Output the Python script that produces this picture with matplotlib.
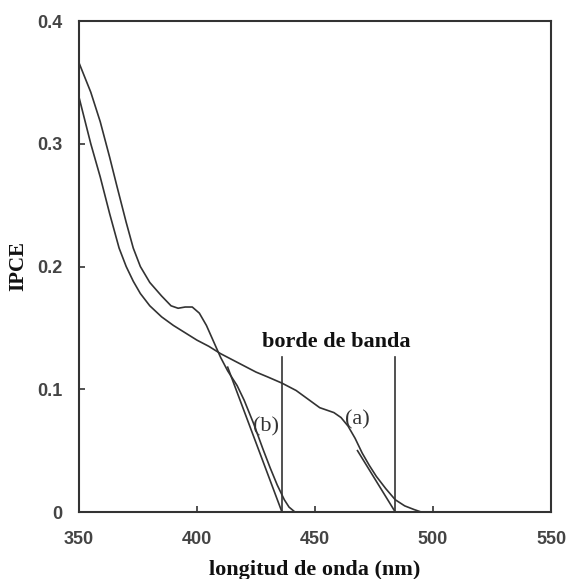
import matplotlib
matplotlib.use('Agg')
from matplotlib import pyplot as plt

# curve (a): slow decay with shoulder near 455 nm
wl_a = [350, 355, 359, 363, 367, 370, 373, 376, 380, 385, 390, 395, 400, 405,
        410, 415, 420, 425, 430, 436, 442, 447, 452, 455, 458, 461, 464, 467,
        470, 473, 476, 480, 484, 488, 492, 495]
ipce_a = [0.338, 0.300, 0.273, 0.243, 0.215, 0.200, 0.188, 0.178, 0.168, 0.159,
          0.152, 0.146, 0.140, 0.135, 0.129, 0.124, 0.119, 0.114, 0.110, 0.105,
          0.099, 0.092, 0.085, 0.083, 0.081, 0.077, 0.070, 0.060, 0.048, 0.038,
          0.029, 0.019, 0.010, 0.005, 0.002, 0.0]

# curve (b): bump near 395 nm then steep drop
wl_b = [350, 355, 359, 363, 366, 370, 373, 376, 380, 385, 389, 392, 395, 398,
        401, 404, 407, 410, 413, 417, 420, 424, 428, 431, 434, 437, 439, 441.5]
ipce_b = [0.366, 0.342, 0.318, 0.289, 0.266, 0.236, 0.215, 0.200, 0.187, 0.176,
          0.168, 0.166, 0.167, 0.167, 0.162, 0.152, 0.139, 0.126, 0.115, 0.103,
          0.091, 0.072, 0.051, 0.036, 0.022, 0.010, 0.004, 0.0]

# tangent lines and band edges
tan_a_x = [468, 484]
tan_a_y = [0.050, 0.0]
tan_b_x = [413, 436]
tan_b_y = [0.118, 0.0]
edge_a = 484
edge_b = 436
edge_top = 0.126

xticks = [350, 400, 450, 500, 550]
yticks = [0, 0.1, 0.2, 0.3, 0.4]
ytick_labels = ['0', '0.1', '0.2', '0.3', '0.4']

col = '#333333'

fig = plt.figure(figsize=(5.69, 5.79), dpi=100)
ax = fig.add_axes([0.1388, 0.1157, 0.8296, 0.848])

ax.plot(wl_a, ipce_a, color=col, lw=1.2)
ax.plot(wl_b, ipce_b, color=col, lw=1.2)
ax.plot(tan_a_x, tan_a_y, color=col, lw=1.2)
ax.plot(tan_b_x, tan_b_y, color=col, lw=1.2)
ax.plot([edge_a, edge_a], [0, edge_top], color=col, lw=1.2)
ax.plot([edge_b, edge_b], [0, edge_top], color=col, lw=1.2)

ax.text(459, 0.1385, 'borde de banda', family='Liberation Serif',
        fontweight='bold', fontsize=16, ha='center', va='center', color='#111111')
ax.text(467.8, 0.075, '(a)', family='Liberation Serif', fontsize=16,
        ha='center', va='center', color=col)
ax.text(429.2, 0.069, '(b)', family='Liberation Serif', fontsize=16,
        ha='center', va='center', color=col)

ax.set_xlim(350, 550)
ax.set_ylim(0, 0.4)
ax.set_xticks(xticks)
ax.set_yticks(yticks)
ax.set_yticklabels(ytick_labels)
ax.tick_params(direction='in', length=4, width=1.2, color=col, labelcolor='#444444',
               labelsize=13)
ax.tick_params(axis='x', pad=14)
ax.tick_params(axis='y', pad=12)
for lab in ax.get_xticklabels() + ax.get_yticklabels():
    lab.set_family('Liberation Sans')
    lab.set_fontweight('bold')
for sp in ax.spines.values():
    sp.set_color(col)
    sp.set_linewidth(1.5)

ax.set_xlabel('longitud de onda (nm)', family='Liberation Serif',
              fontweight='bold', fontsize=16, color='#111111', labelpad=8)
ax.set_ylabel('IPCE', family='Liberation Serif', fontweight='bold',
              fontsize=15, color='#111111', labelpad=6)

fig.savefig('out.png', dpi=100)
